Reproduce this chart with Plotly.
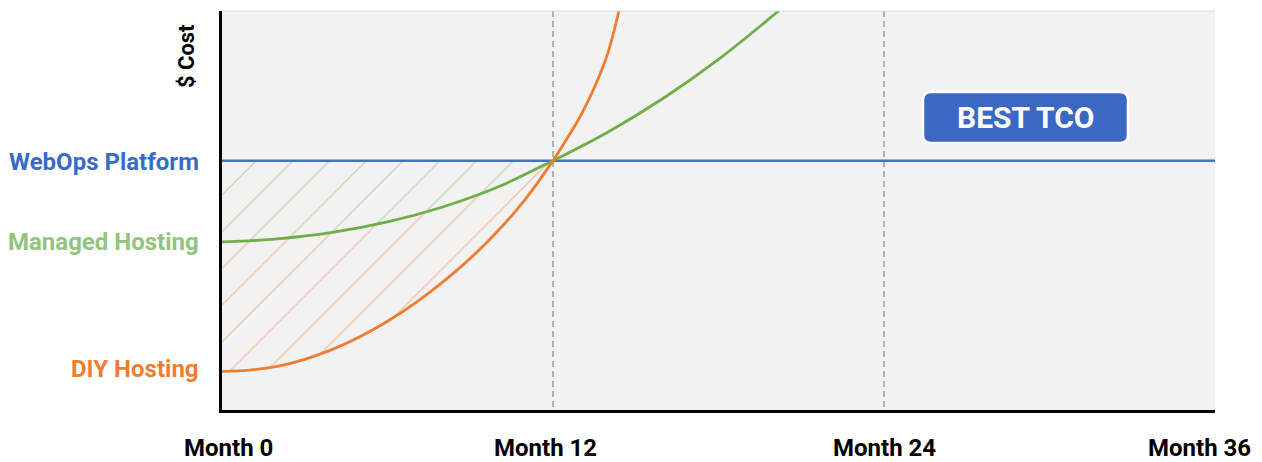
import plotly.graph_objects as go

# ---- data -------------------------------------------------------------
tick_months = [0, 12, 24, 36]
tick_labels = ["Month 0", "Month 12", "Month 24", "Month 36"]

webops_months = [0, 36]
webops_cost = [100, 100]

managed_months = [0, 2, 4, 6, 8, 10, 12, 14, 16, 18, 20, 20.3]
managed_cost = [67.4, 68.6, 71.2, 75.4, 81.4, 89.4, 100, 111.5, 125.0, 140.6, 158.4, 161.2]

diy_months = [0, 1, 2, 3, 4, 5, 6, 7, 8, 9, 10, 11, 12, 12.5, 13, 13.5, 14, 14.4, 14.6]
diy_cost = [15.5, 16.0, 17.5, 20.3, 24.3, 29.4, 35.6, 42.9, 51.3, 60.8, 71.8, 84.6, 100,
            108.7, 118.0, 129.3, 143.5, 160.5, 170.0]

series_names = ["WebOps Platform", "Managed Hosting", "DIY Hosting"]
badge_text = "BEST TCO"
badge_month, badge_cost = 29.13, 117.3
break_even = 12

# ---- styling ----------------------------------------------------------
W, H = 1262, 462
M_L, M_R, M_T, M_B = 222, 47, 11, 52
X_RANGE = [0, 36]
Y_RANGE = [0, 160]
FONT = "Roboto"

BLUE = "#4472c4"
GREEN = "#70ad47"
ORANGE = "#ed7d31"
LABEL_COLORS = ["#3a6bc4", "#93c47d", "#ed7d31"]
LABEL_YSHIFT = [-1, 0, 2]

plot_w = W - M_L - M_R
plot_h = H - M_T - M_B
ux = (X_RANGE[1] - X_RANGE[0]) / plot_w   # months per pixel
uy = (Y_RANGE[1] - Y_RANGE[0]) / plot_h   # cost units per pixel


def upto(months, costs, limit):
    pairs = [(m, c) for m, c in zip(months, costs) if m <= limit]
    return [p[0] for p in pairs], [p[1] for p in pairs]


def rounded_box(cx, cy, w_px, h_px, r_px):
    """SVG path for a rounded rectangle centred at (cx, cy) in data units."""
    hw, hh = w_px / 2 * ux, h_px / 2 * uy
    rx, ry = r_px * ux, r_px * uy
    x0, x1, y0, y1 = cx - hw, cx + hw, cy - hh, cy + hh
    return (f"M{x0 + rx},{y0} L{x1 - rx},{y0} Q{x1},{y0} {x1},{y0 + ry} "
            f"L{x1},{y1 - ry} Q{x1},{y1} {x1 - rx},{y1} "
            f"L{x0 + rx},{y1} Q{x0},{y1} {x0},{y1 - ry} "
            f"L{x0},{y0 + ry} Q{x0},{y0} {x0 + rx},{y0} Z")


def hatch(color):
    return dict(shape="/", fgcolor=color, bgcolor="rgba(0,0,0,0)",
                size=26, solidity=0.055, fillmode="overlay")


fig = go.Figure()

# hatched savings areas up to the break-even month
dm, dc = upto(diy_months, diy_cost, break_even)
mm, mc = upto(managed_months, managed_cost, break_even)
wm = [0, break_even]
wc = [webops_cost[0], webops_cost[0]]

fig.add_trace(go.Scatter(x=dm, y=dc, mode="lines", line=dict(width=0, shape="spline"),
                         hoverinfo="skip", showlegend=False))
fig.add_trace(go.Scatter(x=mm, y=mc, mode="lines", line=dict(width=0, shape="spline"),
                         fill="tonexty", fillcolor="rgba(0,0,0,0)",
                         fillpattern=hatch("#f09a5c"),
                         hoverinfo="skip", showlegend=False))
fig.add_trace(go.Scatter(x=wm, y=wc, mode="lines", line=dict(width=0),
                         fill="tonexty", fillcolor="rgba(0,0,0,0)",
                         fillpattern=hatch("#94c475"),
                         hoverinfo="skip", showlegend=False))

# cost curves
fig.add_trace(go.Scatter(x=webops_months, y=webops_cost, mode="lines", name=series_names[0],
                         line=dict(color=BLUE, width=2.5), showlegend=False))
fig.add_trace(go.Scatter(x=managed_months, y=managed_cost, mode="lines", name=series_names[1],
                         line=dict(color=GREEN, width=2.8, shape="spline"), showlegend=False))
fig.add_trace(go.Scatter(x=diy_months, y=diy_cost, mode="lines", name=series_names[2],
                         line=dict(color=ORANGE, width=2.8, shape="spline"), showlegend=False))

annotations = []
# series labels on the cost axis
for name, y0, col, ys in zip(series_names,
                             [webops_cost[0], managed_cost[0], diy_cost[0]],
                             LABEL_COLORS, LABEL_YSHIFT):
    annotations.append(dict(x=0, xref="paper", y=y0, yref="y", text=name,
                            xanchor="right", yanchor="middle", xshift=-21, yshift=ys,
                            showarrow=False,
                            font=dict(family=FONT, size=24, color=col, weight="bold")))

# month labels under the axis
x_shifts = [6, -8, 0, 38]
x_anchor = ["center", "center", "center", "right"]
for m, lab, sh, an in zip(tick_months, tick_labels, x_shifts, x_anchor):
    annotations.append(dict(x=m, xref="x", y=0, yref="paper", text=lab,
                            xanchor=an, yanchor="middle", xshift=sh,
                            yshift=-38, showarrow=False,
                            font=dict(family=FONT, size=24, color="#000000", weight="bold")))

# axis title
annotations.append(dict(x=0, xref="paper", y=0.887, yref="paper", text="$ Cost",
                        textangle=-90, xanchor="center", yanchor="middle", xshift=-36,
                        showarrow=False,
                        font=dict(family=FONT, size=22, color="#000000", weight="bold")))

# badge
annotations.append(dict(x=badge_month, y=badge_cost, text=badge_text, showarrow=False,
                        xanchor="center", yanchor="middle",
                        font=dict(family=FONT, size=30, color="#ffffff", weight="bold")))

shapes = [
    dict(type="path", xref="x", yref="y",
         path=rounded_box(badge_month, badge_cost, 205, 51, 8),
         fillcolor="#3a68c2", line=dict(color="#ffffff", width=2.5), layer="above"),
    dict(type="line", xref="paper", yref="paper", x0=0, x1=1, y0=1, y1=1,
         line=dict(color="#dcdcdc", width=1)),
]

fig.update_layout(
    width=W, height=H,
    margin=dict(l=M_L, r=M_R, t=M_T, b=M_B),
    paper_bgcolor="#ffffff",
    plot_bgcolor="#f2f2f2",
    showlegend=False,
    annotations=annotations,
    shapes=shapes,
    xaxis=dict(range=X_RANGE, tickvals=tick_months[1:], showticklabels=False, ticks="",
               showgrid=True, gridcolor="#b0b0b0", gridwidth=1.5, griddash="6px,4px",
               showline=True, linecolor="#000000", linewidth=2.5, zeroline=False,
               fixedrange=True),
    yaxis=dict(range=Y_RANGE, showticklabels=False, ticks="", showgrid=False,
               showline=True, linecolor="#000000", linewidth=2.5, zeroline=False,
               fixedrange=True),
)

fig.write_html("out.html", config={"displayModeBar": False})
